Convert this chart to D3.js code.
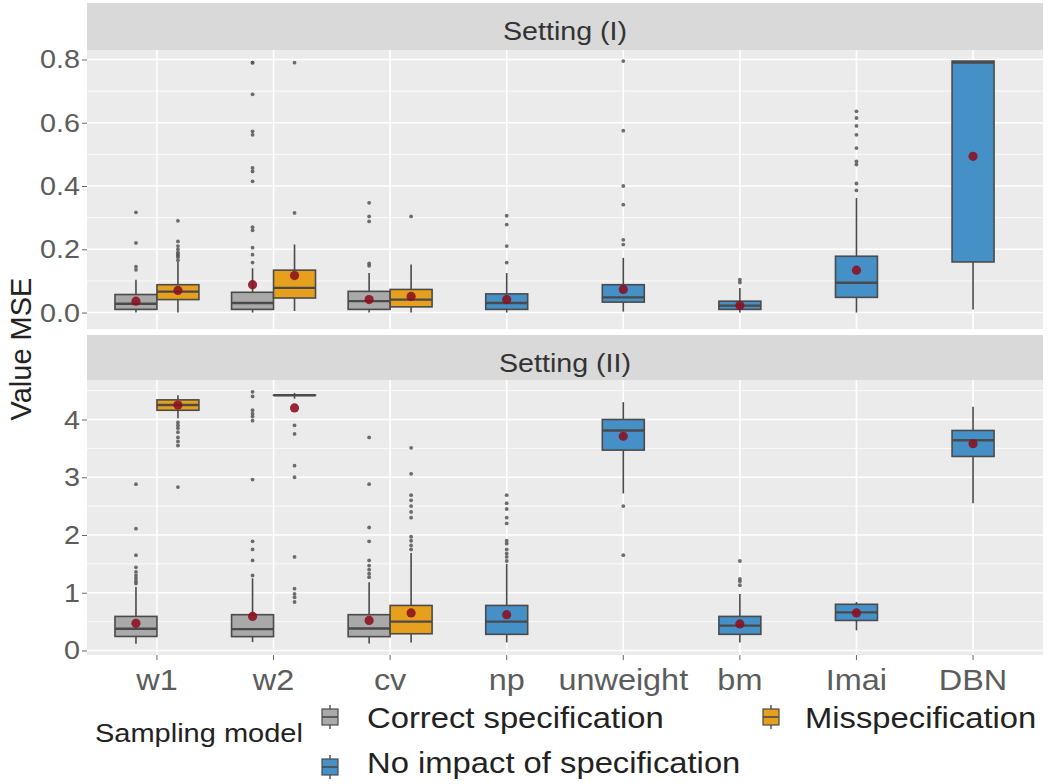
<!DOCTYPE html>
<html><head><meta charset="utf-8">
<script src="https://cdn.jsdelivr.net/npm/d3@7"></script>
<style>body{margin:0;background:#fff}svg{display:block;font-family:"Liberation Sans",Arial,sans-serif}</style>
</head><body><svg id="c" width="1050" height="784"></svg>
<script>
const categories = ["w1","w2","cv","np","unweight","bm","Imai","DBN"];
const groupCodes = ["C","M","N"];
const groupLabels = ["Correct specification","Misspecification","No impact of specification"];
const settingTitles = ["Setting (I)","Setting (II)"];
const ticks1 = [0,0.2,0.4,0.6,0.8];
const ticks2 = [0,1,2,3,4];
// [category, group, lower whisker, q1, median, q3, upper whisker, mean]
const s1Stats = [
 ["w1","C",0.0,0.01,0.028,0.057,0.104,0.036],
 ["w1","M",0.0,0.041,0.066,0.088,0.16,0.07],
 ["w2","C",0.0,0.01,0.03,0.064,0.14,0.088],
 ["w2","M",0.005,0.046,0.078,0.134,0.215,0.117],
 ["cv","C",0.0,0.01,0.036,0.067,0.125,0.041],
 ["cv","M",0.0,0.018,0.041,0.073,0.152,0.051],
 ["np","N",0.0,0.01,0.03,0.059,0.125,0.041],
 ["unweight","N",0.003,0.033,0.048,0.088,0.173,0.073],
 ["bm","N",0.0,0.01,0.022,0.036,0.078,0.022],
 ["Imai","N",0.0,0.048,0.094,0.178,0.362,0.134],
 ["DBN","N",0.01,0.16,0.79,0.795,0.795,0.494]
];
const s1Outliers = [
 [0.135,0.145,0.22,0.317],
 [0.165,0.175,0.18,0.185,0.19,0.2,0.21,0.225,0.29],
 [0.158,0.183,0.205,0.26,0.27,0.415,0.446,0.457,0.562,0.573,0.69,0.79,0.79],
 [0.315,0.79],
 [0.148,0.155,0.288,0.304,0.347],
 [0.304],
 [0.158,0.21,0.278,0.306],
 [0.215,0.23,0.341,0.4,0.575,0.795],
 [0.095,0.104],
 [0.386,0.408,0.468,0.478,0.52,0.562,0.59,0.615,0.636],
 []
];
const s2Stats = [
 ["w1","C",0.116,0.243,0.376,0.59,1.1,0.47],
 ["w1","M",4.02,4.16,4.25,4.34,4.42,4.25],
 ["w2","C",0.145,0.24,0.37,0.62,1.25,0.59],
 ["w2","M",4.36,4.42,4.42,4.42,4.46,4.2],
 ["cv","C",0.12,0.24,0.38,0.62,1.18,0.52],
 ["cv","M",0.14,0.29,0.5,0.78,1.69,0.65],
 ["np","N",0.14,0.28,0.5,0.78,1.5,0.62],
 ["unweight","N",2.72,3.47,3.81,4.0,4.3,3.71],
 ["bm","N",0.14,0.28,0.43,0.59,0.98,0.46],
 ["Imai","N",0.35,0.52,0.66,0.8,0.84,0.65],
 ["DBN","N",2.55,3.36,3.64,3.81,4.22,3.58]
];
const s2Outliers = [
 [1.16,1.2,1.25,1.3,1.36,1.44,1.65,2.11,2.88],
 [3.95,3.9,3.85,3.78,3.69,3.62,3.55,2.83],
 [1.3,1.56,1.75,1.89,2.96,3.98,4.05,4.1,4.16,4.4,4.48],
 [3.9,3.75,3.2,3.0,1.62,1.07,0.98,0.92,0.84],
 [1.27,1.33,1.4,1.47,1.56,1.89,2.13,2.88,3.69],
 [1.75,1.82,1.9,1.97,2.3,2.4,2.5,2.6,2.69,3.06,3.51],
 [1.55,1.62,1.68,1.75,1.85,1.9,2.2,2.3,2.45,2.55,2.69],
 [2.5,1.65],
 [1.13,1.2,1.24,1.55],
 [],
 []
];

const fills = {C:"#a9a9a9", M:"#e6a01e", N:"#4690c8"};
const outline = "#4a4a4a";
const svg = d3.select("#c");
const X0 = 87, X1 = 1043;
const x = d3.scaleLinear().domain([0.4, categories.length + 0.6]).range([X0, X1]);
const catPos = c => categories.indexOf(c) + 1;
const dodgeCats = new Set(s1Stats.filter(d=>d[1]==="M").map(d=>d[0]));
const halfW = 0.18;

const panels = [
 {title: settingTitles[0], strip:[3,50], plot:[50,329], domain:[-0.052,0.83], ticks:ticks1, fmt:d3.format(".1f"), stats:s1Stats, outs:s1Outliers},
 {title: settingTitles[1], strip:[335,380], plot:[380,655], domain:[-0.078,4.684], ticks:ticks2, fmt:d3.format("d"), stats:s2Stats, outs:s2Outliers}
];

function stext(sel, txt, tx, ty, size, sx, anchor, color){
  return sel.append("text").attr("transform",`translate(${tx},${ty}) scale(${sx},1)`)
    .attr("font-size",size).attr("text-anchor",anchor||"start").attr("fill",color||"#222").text(txt);
}

panels.forEach((p, pi) => {
  const y = d3.scaleLinear().domain(p.domain).range([p.plot[1], p.plot[0]]);
  svg.append("rect").attr("x",X0).attr("y",p.strip[0]).attr("width",X1-X0).attr("height",p.strip[1]-p.strip[0]).attr("fill","#d9d9d9");
  stext(svg, p.title, (X0+X1)/2, p.strip[0]+37, 26, 1.1, "middle", "#333");
  svg.append("rect").attr("x",X0).attr("y",p.plot[0]).attr("width",X1-X0).attr("height",p.plot[1]-p.plot[0]).attr("fill","#ebebeb");
  const g = svg.append("g");
  const step = p.ticks[1]-p.ticks[0];
  const minor = p.ticks.map(t=>t+step/2).filter(v=>v<p.domain[1]);
  g.selectAll(".mn").data(minor).join("line").attr("x1",X0).attr("x2",X1)
    .attr("y1",d=>y(d)).attr("y2",d=>y(d)).attr("stroke","#fff").attr("stroke-width",0.8);
  g.selectAll(".mj").data(p.ticks).join("line").attr("x1",X0).attr("x2",X1)
    .attr("y1",d=>y(d)).attr("y2",d=>y(d)).attr("stroke","#fff").attr("stroke-width",1.6);
  g.selectAll(".vx").data(categories).join("line").attr("x1",(d,i)=>x(i+1)).attr("x2",(d,i)=>x(i+1))
    .attr("y1",p.plot[0]).attr("y2",p.plot[1]).attr("stroke","#fff").attr("stroke-width",1.6);
  const ax = svg.append("g").attr("transform",`translate(${X0},0)`)
    .call(d3.axisLeft(y).tickValues(p.ticks).tickFormat(()=>"").tickSize(5));
  ax.select(".domain").remove();
  ax.selectAll("line").attr("stroke","#666");
  p.ticks.forEach(t => stext(svg, p.fmt(t), 80, y(t)+9, 25, 1.15, "end", "#5c5c5c"));
  p.stats.forEach((d, i) => {
    const [cat, grp, lo, q1, med, q3, hi, mean] = d;
    let cx = catPos(cat);
    if (dodgeCats.has(cat)) cx += (grp === "C" ? -halfW : halfW);
    const xl = x(cx - halfW), xr = x(cx + halfW), xc = x(cx);
    const bg = svg.append("g");
    bg.append("line").attr("x1",xc).attr("x2",xc).attr("y1",y(hi)).attr("y2",y(q3)).attr("stroke",outline).attr("stroke-width",1.6);
    bg.append("line").attr("x1",xc).attr("x2",xc).attr("y1",y(q1)).attr("y2",y(lo)).attr("stroke",outline).attr("stroke-width",1.6);
    bg.append("rect").attr("x",xl).attr("y",y(q3)).attr("width",xr-xl).attr("height",Math.max(0.01,y(q1)-y(q3)))
      .attr("fill",fills[grp]).attr("stroke",outline).attr("stroke-width",1.6);
    bg.append("line").attr("x1",xl).attr("x2",xr).attr("y1",y(med)).attr("y2",y(med)).attr("stroke",outline).attr("stroke-width",2.4);
    bg.selectAll("circle.o").data(p.outs[i]).join("circle").attr("cx",xc).attr("cy",v=>y(v)).attr("r",1.9)
      .attr("fill","#555").attr("opacity",0.85);
    bg.append("circle").attr("cx",xc).attr("cy",y(mean)).attr("r",4.6).attr("fill","#8c0f1e").attr("opacity",0.88);
  });
});

const bottom = panels[1].plot[1];
categories.forEach((c, i) => {
  svg.append("line").attr("x1",x(i+1)).attr("x2",x(i+1)).attr("y1",bottom).attr("y2",bottom+5).attr("stroke","#666");
  stext(svg, c, x(i+1), 690, 30, 1.08, "middle", "#5c5c5c");
});

svg.append("text").attr("transform","translate(31,349) rotate(-90)").attr("font-size",29)
  .attr("text-anchor","middle").attr("fill","#222").text("Value MSE");

stext(svg, "Sampling model", 95, 742, 25, 1.16, "start", "#222");
const legendItems = [
  {code:"C", label:groupLabels[0], kx:330, ky:717, tx:367, ty:728},
  {code:"N", label:groupLabels[2], kx:330, ky:767, tx:367, ty:773},
  {code:"M", label:groupLabels[1], kx:771, ky:717, tx:805, ty:728}
];
legendItems.forEach(l => {
  const g = svg.append("g");
  g.append("line").attr("x1",l.kx).attr("x2",l.kx).attr("y1",l.ky-12).attr("y2",l.ky+12).attr("stroke",outline).attr("stroke-width",1.4);
  g.append("rect").attr("x",l.kx-8).attr("y",l.ky-8).attr("width",16).attr("height",16)
    .attr("fill",fills[l.code]).attr("stroke",outline).attr("stroke-width",1.2);
  g.append("line").attr("x1",l.kx-8).attr("x2",l.kx+8).attr("y1",l.ky).attr("y2",l.ky).attr("stroke",outline).attr("stroke-width",1.6);
  stext(svg, l.label, l.tx, l.ty, 29, 1.13, "start", "#222");
});
</script></body></html>
